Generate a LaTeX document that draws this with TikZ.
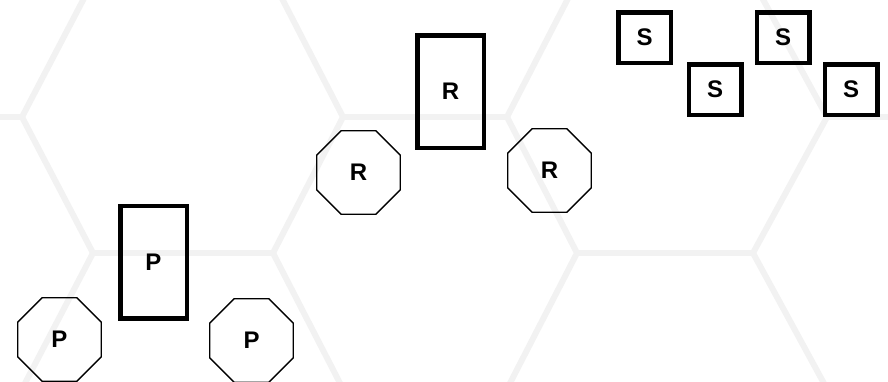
\documentclass[tikz,border=0pt]{standalone}
\usepackage{fontspec}
\setmainfont{Liberation Sans}
\usetikzlibrary{shapes.geometric}
\begin{document}
\begin{tikzpicture}[x=1pt,y=-1pt,
  gridline/.style={draw=black!5, line width=6pt},
  lbl/.style={font=\bfseries\fontsize{24}{24}\selectfont},
  rectbox/.style={lbl, draw=black, line width=4.5pt, minimum width=66.5pt, minimum height=112.5pt, inner sep=0pt},
  sqbox/.style={lbl, draw=black, line width=4.5pt, minimum width=52.5pt, minimum height=50.5pt, inner sep=0pt},
  octbox/.style={lbl, draw=black, line width=1.3pt, regular polygon, regular polygon sides=8, minimum size=90.5pt, inner sep=0pt}]
\useasboundingbox (0,0) rectangle (888,381);
\begin{scope}
\clip (0,0) rectangle (888,381);
% horizontal edges
\draw[gridline] (-150,117) -- (22,117);
\draw[gridline] (343,117) -- (507,117);
\draw[gridline] (827,117) -- (1000,117);
\draw[gridline] (93,253) -- (273,253);
\draw[gridline] (577,253) -- (753,253);
% diagonals
\draw[gridline] (93,-19) -- (22,117) -- (93,253) -- (22,389);
\draw[gridline] (273,-19) -- (343,117) -- (273,253) -- (343,389);
\draw[gridline] (577,-19) -- (507,117) -- (577,253) -- (507,389);
\draw[gridline] (753,-19) -- (827,117) -- (753,253) -- (827,389);
\end{scope}
% R group
\node[rectbox] (rrect) at (450.5,91.5) {R};
\node[octbox] (roctl) at (358.5,172.5) {R};
\node[octbox] (roctr) at (549.5,170.5) {R};
% P group
\node[rectbox] (prect) at (153.5,262) {P};
\node[octbox] (poctl) at (59.5,339.5) {P};
\node[octbox] (poctr) at (251.5,340.5) {P};
% S group
\node[sqbox] (s1) at (644.5,37.5) {S};
\node[sqbox] (s2) at (715,89.5) {S};
\node[sqbox] (s3) at (783,37.5) {S};
\node[sqbox] (s4) at (851,89.5) {S};
\end{tikzpicture}
\end{document}
